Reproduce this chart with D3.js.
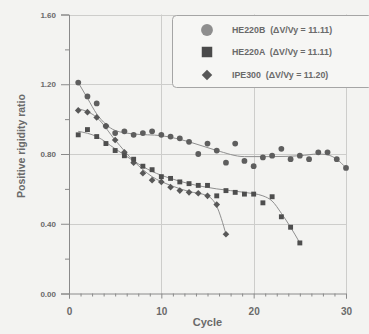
<!DOCTYPE html>
<html>
<head>
<meta charset="utf-8">
<script src="https://cdn.jsdelivr.net/npm/d3@7"></script>
<style>
  html, body { margin: 0; padding: 0; background: #f3f3f1; }
  svg { display: block; }
  text { font-family: "Liberation Sans", Arial, sans-serif; font-weight: bold; fill: #6a6a6a; }
</style>
</head>
<body>
<script>
// Positive rigidity ratio per cycle for three specimens
const cyclesB = d3.range(1, 31);
const valuesB = [1.21, 1.13, 1.09, 0.96, 0.92, 0.93, 0.91, 0.92, 0.93, 0.91,
                 0.90, 0.89, 0.87, 0.80, 0.86, 0.82, 0.75, 0.86, 0.76, 0.73,
                 0.78, 0.79, 0.83, 0.77, 0.79, 0.77, 0.81, 0.81, 0.77, 0.72];

const cyclesA = d3.range(1, 26);
const valuesA = [0.91, 0.94, 0.90, 0.86, 0.82, 0.79, 0.77, 0.73, 0.71, 0.67,
                 0.66, 0.64, 0.63, 0.62, 0.62, 0.56, 0.59, 0.58, 0.57, 0.57,
                 0.52, 0.555, 0.44, 0.38, 0.29];

const cyclesI = d3.range(1, 18);
const valuesI = [1.05, 1.04, 1.01, 0.96, 0.88, 0.81, 0.75, 0.69, 0.65, 0.64,
                 0.61, 0.59, 0.58, 0.575, 0.56, 0.51, 0.34];

// Fitted trend curves (knots: cycle, ratio)
const trendB = [[1, 1.21], [2, 1.12], [3, 1.03], [4, 0.97], [5, 0.935], [7, 0.915],
                [10, 0.905], [13, 0.87], [16, 0.82], [19, 0.785], [22, 0.785],
                [25, 0.79], [27, 0.80], [28, 0.795], [29, 0.77], [30, 0.72]];
const trendA = [[1, 0.93], [3, 0.90], [5, 0.83], [7, 0.76], [9, 0.70], [11, 0.66],
                [13, 0.63], [16, 0.60], [19, 0.58], [21, 0.56], [22, 0.53],
                [23, 0.46], [24, 0.38], [25, 0.29]];
const trendI = [[1, 1.06], [3, 1.01], [5, 0.88], [7, 0.76], [9, 0.67], [11, 0.62],
                [13, 0.585], [15, 0.56], [16, 0.50], [17, 0.34]];

const seriesNames = ["HE220B", "HE220A", "IPE300"];
const seriesNotes = ["(\u0394V/Vy = 11.11)", "(\u0394V/Vy = 11.11)", "(\u0394V/Vy = 11.20)"];

const xMajor = [0, 10, 20, 30];
const yMajor = [0, 0.4, 0.8, 1.2, 1.6];
const yLabels = ["0.00", "0.40", "0.80", "1.20", "1.60"];

const W = 369, H = 334;
const svg = d3.select("body").append("svg").attr("width", W).attr("height", H);

const x = d3.scaleLinear().domain([0, 30]).range([69, 346]);
const y = d3.scaleLinear().domain([0, 1.6]).range([293.5, 14.5]);

// grid
const grid = svg.append("g").attr("stroke", "#cdcdcb").attr("stroke-width", 1);
grid.selectAll("line.h").data(yMajor.slice(1)).join("line")
  .attr("x1", x(0)).attr("x2", x(30))
  .attr("y1", d => Math.round(y(d)) + 0.5).attr("y2", d => Math.round(y(d)) + 0.5);
grid.selectAll("line.v").data(xMajor.slice(1)).join("line")
  .attr("y1", y(0)).attr("y2", y(1.6))
  .attr("x1", d => Math.round(x(d)) + 0.5).attr("x2", d => Math.round(x(d)) + 0.5);

// axes
const xAxis = d3.axisBottom(x).tickValues(xMajor).tickSize(5).tickPadding(9).tickFormat(d3.format("d"));
const gx = svg.append("g").attr("transform", `translate(0,${y(0)})`).call(xAxis);
const xMinor = d3.axisBottom(x).tickValues(d3.range(0, 30.01, 1.25).filter(v => v % 10 !== 0))
  .tickSize(3).tickFormat("");
svg.append("g").attr("transform", `translate(0,${y(0)})`).call(xMinor)
  .call(g => g.select(".domain").remove());

const yAxis = d3.axisLeft(y).tickValues(yMajor).tickSize(8).tickPadding(5)
  .tickFormat((d, i) => yLabels[i]);
const gy = svg.append("g").attr("transform", `translate(${x(0)},0)`).call(yAxis);
const yMinor = d3.axisLeft(y).tickValues([0.2, 0.6, 1.0, 1.4]).tickSize(4).tickFormat("");
svg.append("g").attr("transform", `translate(${x(0)},0)`).call(yMinor)
  .call(g => g.select(".domain").remove());

svg.selectAll(".domain, .tick line").attr("stroke", "#8a8a8a");
svg.selectAll(".tick text").attr("fill", "#6a6a6a")
  .style("font-family", "Liberation Sans, Arial, sans-serif").style("font-weight", "bold");
gx.selectAll("text").attr("font-size", 10);
gy.selectAll("text").attr("font-size", 8);

// axis titles
svg.append("text").attr("x", x(15)).attr("y", 326).attr("text-anchor", "middle")
  .attr("font-size", 11).text("Cycle");
svg.append("text").attr("transform", "translate(25,146) rotate(-90)")
  .attr("text-anchor", "middle").attr("font-size", 10.5).text("Positive rigidity ratio");

// trend curves
const curve = d3.line().x(d => x(d[0])).y(d => y(d[1])).curve(d3.curveMonotoneX);
[trendB, trendA, trendI].forEach(t => {
  svg.append("path").attr("d", curve(t)).attr("fill", "none")
    .attr("stroke", "#8f8f8f").attr("stroke-width", 1);
});

// markers (diamond = square turned 45 degrees)
const symB = d3.symbol().type(d3.symbolCircle).size(26);
const symA = d3.symbol().type(d3.symbolSquare).size(24);
const symI = d3.symbol().type(d3.symbolSquare).size(22);
function drawPoints(cs, vs, sym, color, rot) {
  svg.append("g").selectAll("path").data(cs.map((c, i) => [c, vs[i]])).join("path")
    .attr("transform", d => `translate(${x(d[0])},${y(d[1])}) rotate(${rot})`)
    .attr("d", sym).attr("fill", color);
}
drawPoints(cyclesB, valuesB, symB, "#5e5e5e", 0);
drawPoints(cyclesI, valuesI, symI, "#585858", 45);
drawPoints(cyclesA, valuesA, symA, "#4e4e4e", 0);

// legend
const lg = svg.append("g");
lg.append("rect").attr("x", 172.5).attr("y", 15.5).attr("width", 200).attr("height", 72)
  .attr("rx", 4).attr("fill", "#f6f6f4").attr("stroke", "#a5a5a5");
const legendSyms = [
  d3.symbol().type(d3.symbolCircle).size(110),
  d3.symbol().type(d3.symbolSquare).size(110),
  d3.symbol().type(d3.symbolSquare).size(55)
];
const legendRot = [0, 0, 45];
const legendColors = ["#8e8e8e", "#4a4a4a", "#575757"];
const rowY = [30, 52, 75];
seriesNames.forEach((n, i) => {
  lg.append("path").attr("transform", `translate(207,${rowY[i]}) rotate(${legendRot[i]})`)
    .attr("d", legendSyms[i]()).attr("fill", legendColors[i]);
  lg.append("text").attr("x", 232).attr("y", rowY[i] + 3).attr("font-size", 8.8)
    .attr("xml:space", "preserve").text(n + "  " + seriesNotes[i]);
});
</script>
</body>
</html>
